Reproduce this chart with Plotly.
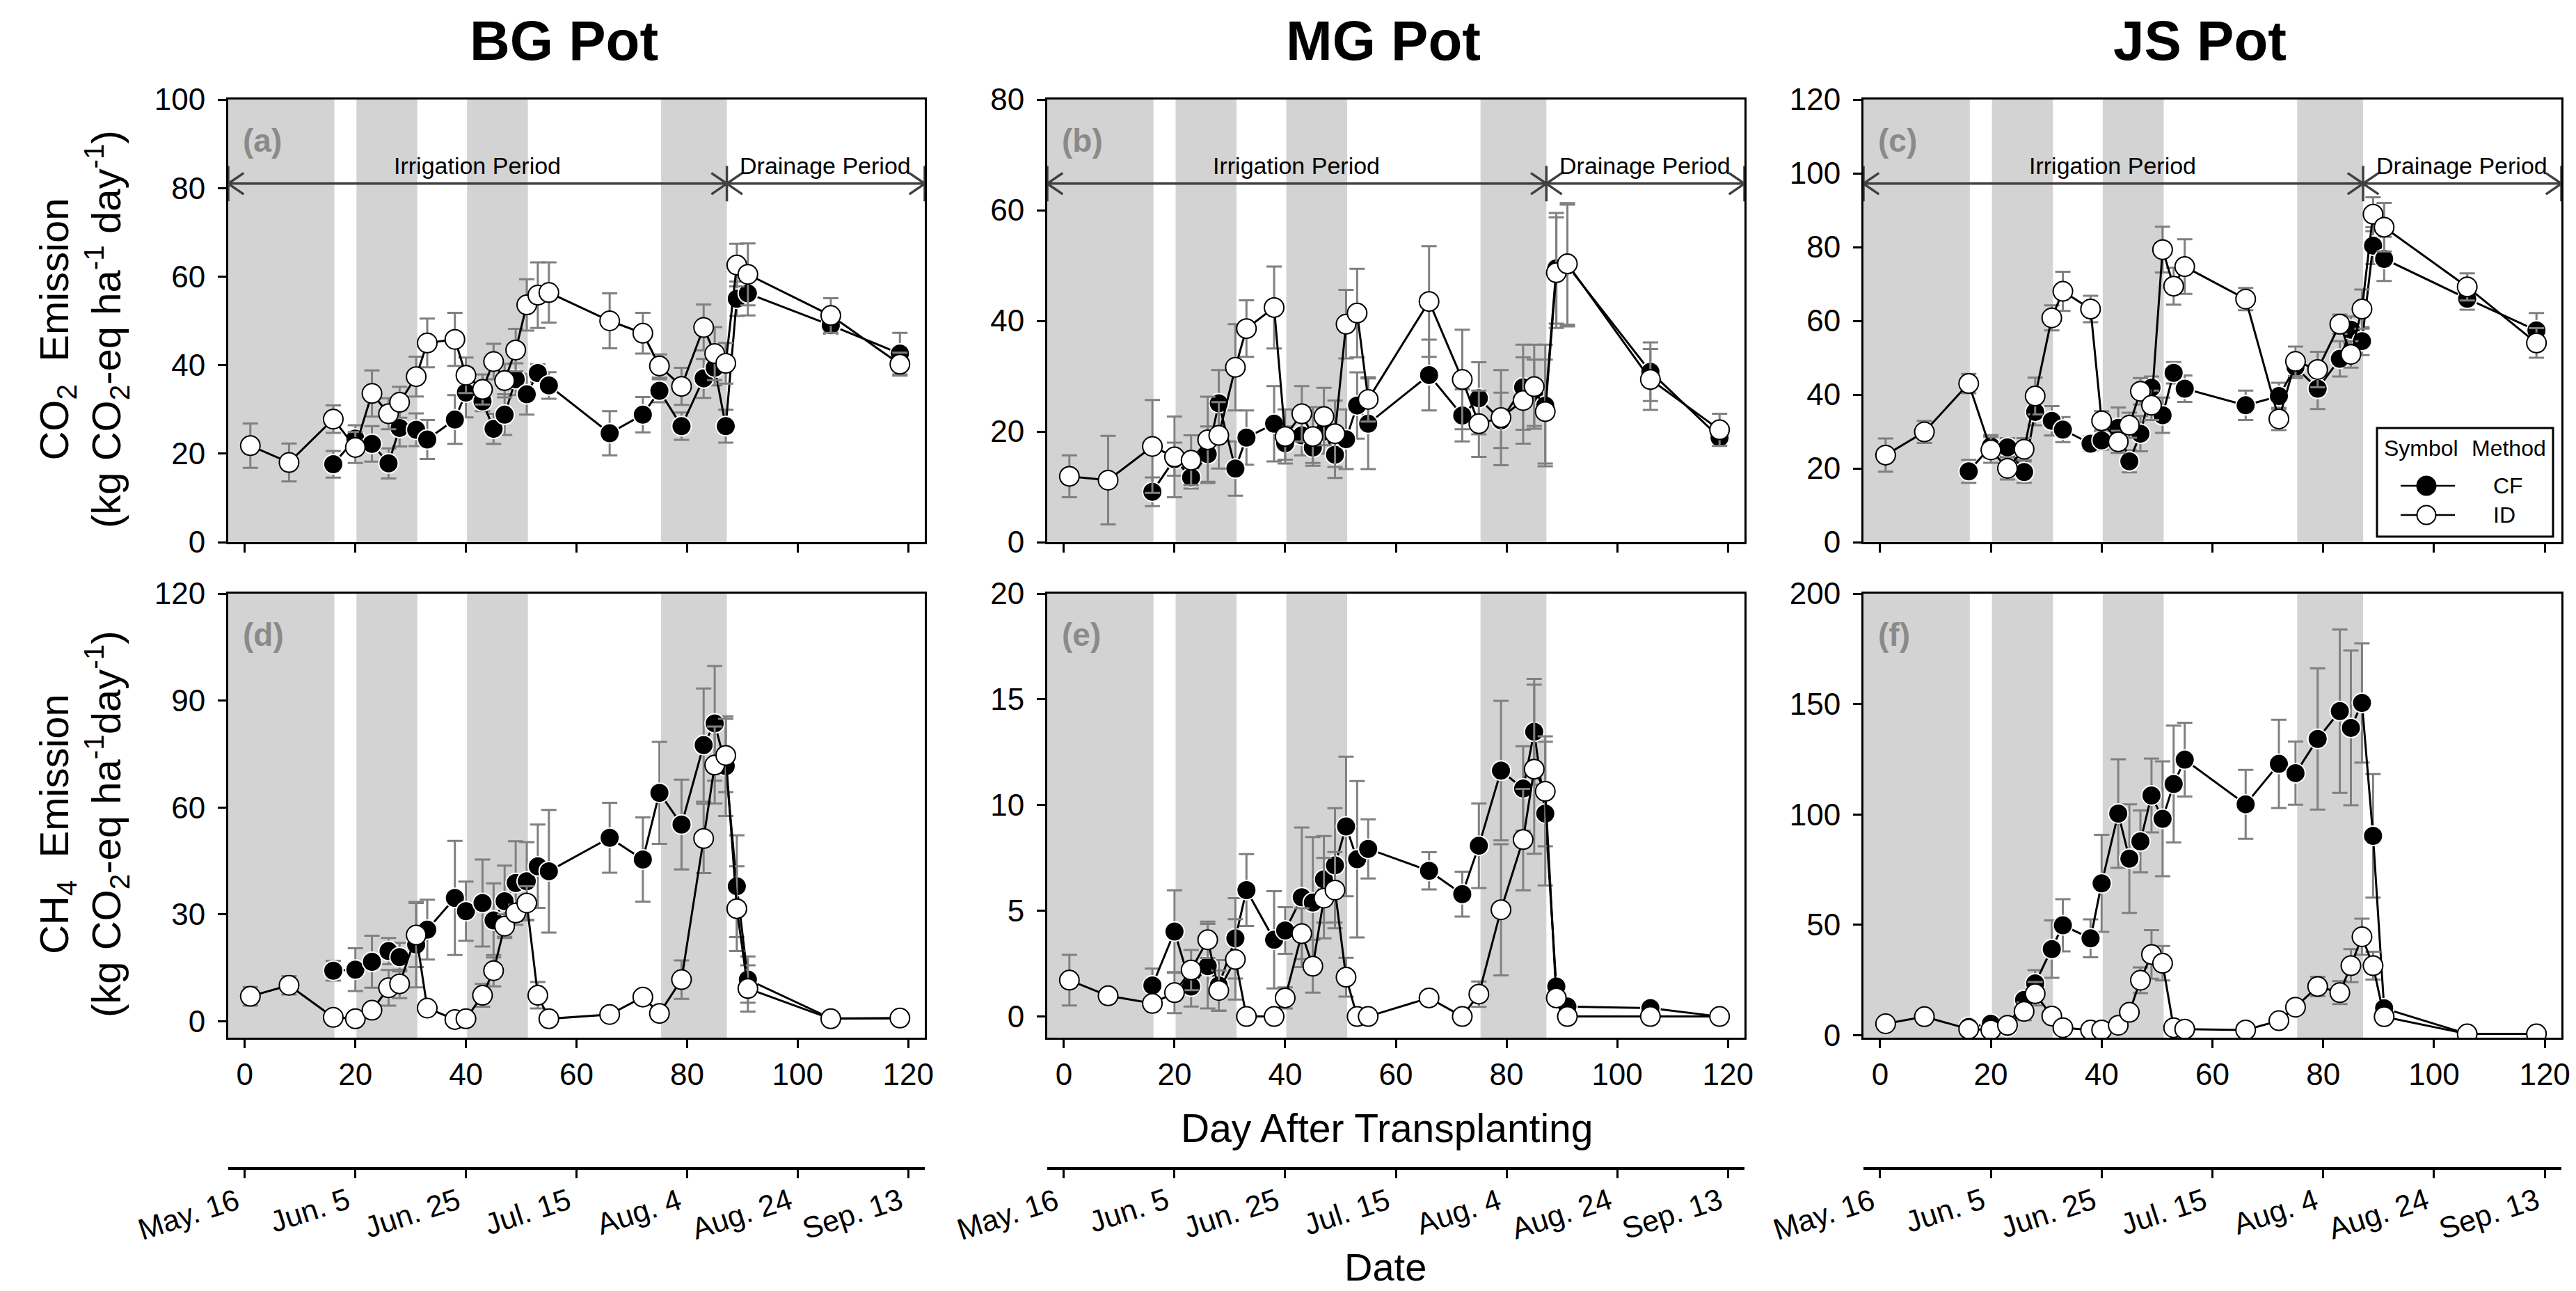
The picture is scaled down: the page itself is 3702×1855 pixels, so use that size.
import plotly.graph_objects as go

W, H = 3702, 1855
FONT = "Liberation Sans, Arial, sans-serif"

# ---------------- data ----------------
DAYS = [1, 8, 16, 20, 23, 26, 28, 31, 33, 38, 40, 43, 45, 47, 49, 51, 53, 55,
        66, 72, 75, 79, 83, 85, 87, 89, 91, 106, 118.5]

# (a) BG Pot CO2
ID_a = [21.8, 18.0, 27.8, 21.4, 33.6, 29.0, 31.6, 37.4, 45.0, 45.8, 37.7, 34.5, 40.8, 36.5, 43.4, 53.6, 55.8, 56.4,
        50.0, 47.2, 39.8, 35.2, 48.5, 42.6, 40.4, 62.6, 60.5, 51.2, 40.2]
CF_a = [None, None, 17.6, 23.4, 22.2, 17.8, 25.8, 25.4, 23.2, 27.7, 33.8, 31.8, 25.6, 28.8, 36.8, 33.4, 38.2, 35.4,
        24.6, 28.8, 34.2, 26.2, 37.0, 39.4, 26.2, 55.0, 56.2, 49.0, 42.6]
ERR_ID_a = [5.0, 4.3, 3.1, 3.5, 5.2, 3.5, 3.5, 4.5, 5.5, 6.0, 4.0, 3.4, 4.0, 3.8, 4.8, 5.8, 7.4, 6.8,
            6.2, 4.6, 2.6, 4.2, 5.2, 6.0, 4.6, 4.8, 7.0, 3.9, 2.6]
ERR_CF_a = [0, 0, 3.0, 3.0, 4.0, 3.4, 4.2, 3.7, 4.4, 5.5, 5.6, 2.2, 3.4, 4.6, 3.6, 4.6, 2.0, 3.0,
            5.0, 4.0, 2.6, 3.1, 4.4, 4.0, 3.7, 3.9, 5.0, 1.9, 4.7]

# (b) MG Pot CO2
ID_b = [11.9, 11.2, 17.3, 15.4, 14.8, 18.5, 19.3, 31.6, 38.6, 42.4, 19.1, 23.2, 19.1, 22.7, 19.6, 39.4, 41.4, 25.8,
        43.5, 29.4, 21.4, 22.5, 25.6, 28.1, 23.6, 48.7, 50.3, 29.4, 20.3]
CF_b = [None, None, 9.1, 15.0, 11.7, 15.9, 25.1, 13.3, 18.9, 21.4, 17.9, 19.3, 17.1, 20.0, 15.8, 18.6, 24.7, 21.4,
        30.2, 22.9, 26.0, 22.0, 28.0, 27.0, 24.7, 49.5, 50.0, 30.8, 18.9]
ERR_ID_b = [3.8, 8.0, 8.4, 7.3, 4.5, 7.8, 6.0, 7.8, 5.1, 7.4, 4.9, 5.0, 5.3, 5.2, 6.0, 6.2, 8.0, 4.0,
            10.0, 9.0, 6.0, 8.6, 7.8, 7.6, 9.4, 10.0, 11.0, 5.5, 2.9]
ERR_CF_b = [0, 0, 2.6, 3.0, 2.0, 5.0, 6.0, 4.9, 4.9, 6.8, 3.0, 3.6, 2.8, 4.0, 4.2, 5.4, 6.0, 8.2,
            6.4, 4.7, 6.5, 5.0, 7.7, 6.0, 11.0, 10.0, 11.0, 5.3, 1.3]

# (c) JS Pot CO2
ID_c = [23.6, 29.9, 43.0, 25.0, 20.0, 25.2, 39.6, 60.8, 68.0, 63.2, 32.9, 27.2, 31.7, 40.9, 37.1, 79.3, 69.4, 74.7,
        65.9, 33.4, 49.0, 46.8, 59.1, 50.9, 63.2, 88.9, 85.4, 69.2, 54.0]
CF_c = [None, None, 19.2, 26.0, 25.7, 19.0, 35.3, 32.9, 30.5, 26.7, 27.6, 31.0, 21.9, 29.4, 41.9, 34.4, 45.9, 41.6,
        37.1, 39.6, 47.5, 41.6, 49.7, 57.6, 54.5, 80.4, 76.8, 66.0, 57.4]
ERR_ID_c = [4.5, 3.0, 2.6, 3.5, 3.0, 3.0, 5.0, 3.4, 5.3, 3.6, 2.6, 3.0, 3.4, 3.6, 4.0, 6.2, 5.0, 7.4,
            3.0, 3.0, 4.0, 4.8, 2.6, 3.6, 5.3, 4.6, 6.6, 3.7, 4.0]
ERR_CF_c = [0, 0, 3.1, 3.0, 2.5, 2.9, 3.6, 4.0, 3.4, 2.0, 2.5, 5.5, 3.0, 4.8, 3.0, 4.8, 2.9, 3.6,
            4.0, 3.6, 3.0, 5.5, 4.8, 3.6, 3.8, 5.0, 6.0, 3.0, 4.7]

# (d) BG Pot CH4
ID_d = [7.0, 10.1, 1.1, 0.7, 3.1, 9.4, 10.5, 24.2, 3.7, 0.5, 0.7, 7.3, 14.2, 26.7, 30.4, 33.2, 7.3, 0.7,
        1.9, 6.8, 2.2, 11.7, 51.3, 71.9, 74.6, 31.6, 9.2, 0.7, 0.9]
CF_d = [None, None, 14.2, 14.5, 16.7, 19.7, 18.0, 21.5, 25.7, 34.6, 30.9, 33.2, 28.3, 33.7, 38.8, 39.3, 43.5, 42.1,
        51.5, 45.4, 64.1, 55.2, 77.5, 83.6, 71.6, 37.9, 11.7, 0.8, 0.8]
ERR_ID_d = [2.6, 2.6, 0.5, 0.5, 1.0, 5.0, 4.0, 9.0, 1.0, 0.5, 0.5, 3.2, 4.4, 3.3, 2.3, 4.7, 3.7, 0.5,
            0.5, 1.0, 1.0, 5.4, 9.7, 10.8, 10.3, 11.9, 6.5, 0.3, 0.3]
ERR_CF_d = [0, 0, 2.8, 6.0, 7.3, 3.7, 4.0, 12.0, 8.4, 16.0, 8.3, 12.2, 10.4, 10.0, 11.7, 11.0, 11.7, 17.2,
            9.8, 11.8, 14.3, 12.6, 15.9, 16.1, 14.0, 14.3, 6.5, 0.3, 0.3]

# (e) MG Pot CH4
ID_e = [1.72, 0.98, 0.62, 1.13, 2.2, 3.63, 1.23, 2.7, 0.0, 0.0, 0.88, 3.92, 2.38, 5.6, 5.98, 1.86, 0.0, 0.0,
        0.88, 0.0, 1.06, 5.05, 8.37, 11.7, 10.65, 0.88, 0.0, 0.0, 0.0]
CF_e = [None, None, 1.47, 4.02, 1.42, 2.38, 1.47, 3.7, 5.98, 3.63, 4.07, 5.64, 5.39, 6.49, 7.15, 8.99, 7.44, 7.93,
        6.89, 5.79, 8.08, 11.63, 10.78, 13.47, 9.6, 1.42, 0.47, 0.4, 0.0]
ERR_ID_e = [1.2, 0.3, 0.2, 0.97, 0.95, 0.86, 0.95, 1.9, 0, 0, 0.5, 1.2, 1.25, 1.9, 1.8, 0.92, 0, 0,
            0.3, 0, 0.6, 3.1, 2.4, 4.0, 2.6, 0.3, 0, 0, 0]
ERR_CF_e = [0, 0, 0.8, 1.95, 0.95, 2.0, 1.2, 1.9, 1.7, 2.3, 1.1, 3.3, 3.1, 2.05, 2.7, 3.3, 3.7, 1.4,
            0.88, 1.06, 2.0, 3.3, 2.0, 2.5, 3.4, 0.3, 0.1, 0.1, 0]

# (f) JS Pot CH4
ID_f = [5.2, 8.4, 2.8, 2.4, 4.5, 10.8, 18.8, 8.7, 3.4, 2.4, 2.4, 4.5, 10.4, 24.9, 36.6, 32.6, 3.4, 2.8,
        2.4, 6.6, 12.7, 22.1, 19.3, 31.5, 44.6, 31.5, 8.4, 0.6, 0.6]
CF_f = [None, None, 3.8, 5.2, 3.8, 16.0, 23.5, 39.0, 49.8, 43.9, 68.8, 100.4, 80.0, 87.8, 108.6, 98.0, 113.8, 124.8,
        104.6, 122.9, 118.7, 134.2, 146.8, 139.2, 150.5, 90.3, 12.2, 0.6, 0.6]
ERR_ID_f = [1, 1, 1, 0.5, 1, 4, 5.3, 2, 0.5, 0.5, 0.5, 1, 2, 5.8, 11, 7.8, 0.5, 0.5,
            0.5, 1.5, 2, 4.4, 5.2, 7.5, 8.2, 6.3, 1.5, 0.3, 0.3]
ERR_CF_f = [0, 0, 1, 1, 1, 3, 6, 13, 11.8, 8.6, 22, 24.6, 24.6, 14, 16.7, 26, 26.5, 16.7,
            15.6, 20, 14.3, 32, 37, 35, 27, 28, 3, 0.3, 0.3]

X_TICKS = [0, 20, 40, 60, 80, 100, 120]
DATE_LABELS = ["May. 16", "Jun. 5", "Jun. 25", "Jul. 15", "Aug. 4", "Aug. 24", "Sep. 13"]
IRRIGATION_BANDS = [(-3, 16.2), (20.2, 31.2), (40.2, 51.2), (75.3, 87.2)]
IRRIGATION_END = 87.2
X_RANGE = [-3, 123]
POT_TITLES = ["BG Pot", "MG Pot", "JS Pot"]
PANEL_LETTERS = ["(a)", "(b)", "(c)", "(d)", "(e)", "(f)"]

# ---------------- layout geometry (pixels) ----------------
COLS = [(320, 1321), (1497, 2499), (2670, 3673)]
ROWS = [(135, 771), (845, 1483)]


def xdom(c):
    return [c[0] / W, c[1] / W]


def ydom(r):
    return [1 - r[1] / H, 1 - r[0] / H]


panels = [
    dict(idv=ID_a, cf=CF_a, eid=ERR_ID_a, ecf=ERR_CF_a, yr=[0, 100], yt=[0, 20, 40, 60, 80, 100], row=0, col=0),
    dict(idv=ID_b, cf=CF_b, eid=ERR_ID_b, ecf=ERR_CF_b, yr=[0, 80], yt=[0, 20, 40, 60, 80], row=0, col=1),
    dict(idv=ID_c, cf=CF_c, eid=ERR_ID_c, ecf=ERR_CF_c, yr=[0, 120], yt=[0, 20, 40, 60, 80, 100, 120], row=0, col=2),
    dict(idv=ID_d, cf=CF_d, eid=ERR_ID_d, ecf=ERR_CF_d, yr=[-4.6, 120], yt=[0, 30, 60, 90, 120], row=1, col=0),
    dict(idv=ID_e, cf=CF_e, eid=ERR_ID_e, ecf=ERR_CF_e, yr=[-1, 20], yt=[0, 5, 10, 15, 20], row=1, col=1),
    dict(idv=ID_f, cf=CF_f, eid=ERR_ID_f, ecf=ERR_CF_f, yr=[-1.1, 200], yt=[0, 50, 100, 150, 200], row=1, col=2),
]

fig = go.Figure()
shapes = []
annotations = []

axis_common = dict(showline=True, mirror=True, linecolor="black", linewidth=3,
                   ticks="outside", ticklen=12, tickwidth=3, tickcolor="black",
                   showgrid=False, zeroline=False, automargin=False,
                   tickfont=dict(size=44, color="black", family=FONT))

ERR_COLOR = "#808080"
ARROW_COLOR = "#404040"
BAND_COLOR = "#d3d3d3"

for i, p in enumerate(panels):
    n = i + 1
    s = "" if n == 1 else str(n)
    xr, yr = "x" + s, "y" + s
    fig.add_trace(go.Scatter(
        x=DAYS, y=p["cf"], mode="lines+markers", xaxis=xr, yaxis=yr, name="CF", showlegend=False,
        line=dict(color="black", width=3),
        marker=dict(symbol="circle", size=28, color="black", line=dict(color="white", width=2)),
        error_y=dict(type="data", array=p["ecf"], color=ERR_COLOR, thickness=3, width=11)))
    fig.add_trace(go.Scatter(
        x=DAYS, y=p["idv"], mode="lines+markers", xaxis=xr, yaxis=yr, name="ID", showlegend=False,
        line=dict(color="black", width=3),
        marker=dict(symbol="circle", size=28, color="white", line=dict(color="black", width=2)),
        error_y=dict(type="data", array=p["eid"], color=ERR_COLOR, thickness=3, width=11)))

    fig.update_layout({
        "xaxis" + s: dict(domain=xdom(COLS[p["col"]]), anchor=yr, range=X_RANGE, tickvals=X_TICKS,
                          showticklabels=(p["row"] == 1), **axis_common),
        "yaxis" + s: dict(domain=ydom(ROWS[p["row"]]), anchor=xr, range=p["yr"], tickvals=p["yt"],
                          ticklabelstandoff=9, **axis_common),
    })

    # irrigation bands
    for b0, b1 in IRRIGATION_BANDS:
        shapes.append(dict(type="rect", xref=xr, yref=yr + " domain", x0=b0, x1=b1, y0=0, y1=1,
                           fillcolor=BAND_COLOR, line=dict(width=0), layer="below"))

    # panel letter
    annotations.append(dict(text="<b>" + PANEL_LETTERS[i] + "</b>", xref=xr, yref=yr + " domain",
                            x=-0.6, y=0.907, xanchor="left", yanchor="middle", showarrow=False,
                            font=dict(size=46, color="#8a8a8a", family=FONT)))

    # period arrows on CO2 panels
    if p["row"] == 0:
        ay, h, dx, v = 0.81, 0.024, 2.8, 0.04
        yd = yr + " domain"
        line = dict(color=ARROW_COLOR, width=3.5)
        shapes.append(dict(type="line", xref=xr, yref=yd, x0=X_RANGE[0], x1=X_RANGE[1], y0=ay, y1=ay,
                           line=line, layer="above"))
        paths = [
            f"M {X_RANGE[0] + dx},{ay + h} L {X_RANGE[0]},{ay} L {X_RANGE[0] + dx},{ay - h}",
            f"M {IRRIGATION_END - dx},{ay + h} L {IRRIGATION_END},{ay} L {IRRIGATION_END - dx},{ay - h}",
            f"M {IRRIGATION_END + dx},{ay + h} L {IRRIGATION_END},{ay} L {IRRIGATION_END + dx},{ay - h}",
            f"M {X_RANGE[1] - dx},{ay + h} L {X_RANGE[1]},{ay} L {X_RANGE[1] - dx},{ay - h}",
            f"M {IRRIGATION_END},{ay + v} L {IRRIGATION_END},{ay - v}",
            f"M {X_RANGE[0]},{ay + v} L {X_RANGE[0]},{ay - v}",
            f"M {X_RANGE[1]},{ay + v} L {X_RANGE[1]},{ay - v}",
        ]
        for pth in paths:
            shapes.append(dict(type="path", xref=xr, yref=yd, path=pth, line=line, layer="above"))
        annotations.append(dict(text="Irrigation Period", xref=xr, yref=yd, x=42, y=ay + 0.008,
                                xanchor="center", yanchor="bottom", showarrow=False,
                                font=dict(size=34, color="black", family=FONT)))
        annotations.append(dict(text="Drainage Period", xref=xr, yref=yd, x=105, y=ay + 0.008,
                                xanchor="center", yanchor="bottom", showarrow=False,
                                font=dict(size=34, color="black", family=FONT)))

# date axes (secondary x axis under each column); labels as rotated annotations at the ticks
DATE_Y = 1669
for j in range(3):
    n = 7 + j
    # empty trace so that the date-axis subplot is created
    fig.add_trace(go.Scatter(x=[], y=[], xaxis=f"x{n}", yaxis=f"y{n}", showlegend=False, hoverinfo="skip"))
    fig.update_layout({
        f"xaxis{n}": dict(domain=xdom(COLS[j]), anchor=f"y{n}", range=X_RANGE, tickvals=X_TICKS,
                          showticklabels=False, showline=True, linecolor="black", linewidth=4,
                          ticks="outside", ticklen=12, tickwidth=3, tickcolor="black", automargin=False,
                          showgrid=False, zeroline=False),
        f"yaxis{n}": dict(domain=[1 - DATE_Y / H, 1 - DATE_Y / H + 0.0005], anchor=f"x{n}", visible=False,
                          range=[0, 1], automargin=False),
    })
    for tv, tl in zip(X_TICKS, DATE_LABELS):
        annotations.append(dict(text=tl, xref=f"x{n}", yref="paper", x=tv, y=1 - 1688 / H,
                                xanchor="right", yanchor="top", textangle=-18, showarrow=False,
                                font=dict(size=43, color="black", family=FONT)))

# pot titles
for j, t in enumerate(POT_TITLES):
    cx = (COLS[j][0] + COLS[j][1]) / 2 - 18
    annotations.append(dict(text="<b>" + t + "</b>", xref="paper", yref="paper", x=cx / W, y=1 - 50 / H,
                            xanchor="center", yanchor="middle", showarrow=False,
                            font=dict(size=80, color="black", family=FONT)))

# y-axis titles
annotations.append(dict(
    text="CO<sub>2</sub>&nbsp; Emission<br>(kg CO<sub>2</sub>-eq ha<sup>-1</sup> day<sup>-1</sup>)",
    xref="paper", yref="paper", x=112 / W, y=1 - 465 / H, textangle=-90,
    xanchor="center", yanchor="middle", showarrow=False,
    font=dict(size=58, color="black", family=FONT)))
annotations.append(dict(
    text="CH<sub>4</sub>&nbsp; Emission<br>(kg CO<sub>2</sub>-eq ha<sup>-1</sup>day<sup>-1</sup>)",
    xref="paper", yref="paper", x=112 / W, y=1 - 1176 / H, textangle=-90,
    xanchor="center", yanchor="middle", showarrow=False,
    font=dict(size=58, color="black", family=FONT)))

# x titles
annotations.append(dict(text="Day After Transplanting", xref="paper", yref="paper", x=1985 / W, y=1 - 1613 / H,
                        xanchor="center", yanchor="middle", showarrow=False,
                        font=dict(size=57, color="black", family=FONT)))
annotations.append(dict(text="Date", xref="paper", yref="paper", x=1983 / W, y=1 - 1812 / H,
                        xanchor="center", yanchor="middle", showarrow=False,
                        font=dict(size=56, color="black", family=FONT)))

# legend (drawn in panel c)
shapes.append(dict(type="rect", xref="paper", yref="paper", x0=3408 / W, x1=3661 / W,
                   y0=1 - 763 / H, y1=1 - 607 / H, line=dict(color="black", width=3),
                   fillcolor="white", layer="above"))
annotations.append(dict(text="Symbol", xref="paper", yref="paper", x=3471 / W, y=1 - 636 / H,
                        xanchor="center", yanchor="middle", showarrow=False,
                        font=dict(size=32, color="black", family=FONT)))
annotations.append(dict(text="Method", xref="paper", yref="paper", x=3597 / W, y=1 - 636 / H,
                        xanchor="center", yanchor="middle", showarrow=False,
                        font=dict(size=32, color="black", family=FONT)))
for label, fill, yy in [("CF", "black", 690), ("ID", "white", 732)]:
    shapes.append(dict(type="line", xref="paper", yref="paper", x0=3442 / W, x1=3520 / W,
                       y0=1 - yy / H, y1=1 - yy / H, line=dict(color="black", width=2.5), layer="above"))
    r = 13.5
    shapes.append(dict(type="circle", xref="paper", yref="paper", x0=(3479 - r) / W, x1=(3479 + r) / W,
                       y0=1 - (yy + r) / H, y1=1 - (yy - r) / H, fillcolor=fill,
                       line=dict(color="black", width=2), layer="above"))
    annotations.append(dict(text=label, xref="paper", yref="paper", x=3573 / W, y=1 - yy / H,
                            xanchor="left", yanchor="middle", showarrow=False,
                            font=dict(size=32, color="black", family=FONT)))

fig.update_layout(
    width=W, height=H, autosize=False, margin=dict(l=0, r=0, t=0, b=0, pad=0, autoexpand=False),
    paper_bgcolor="white", plot_bgcolor="white",
    showlegend=False, shapes=shapes, annotations=annotations,
    font=dict(family=FONT, color="black"),
)

fig.write_html("out.html")
